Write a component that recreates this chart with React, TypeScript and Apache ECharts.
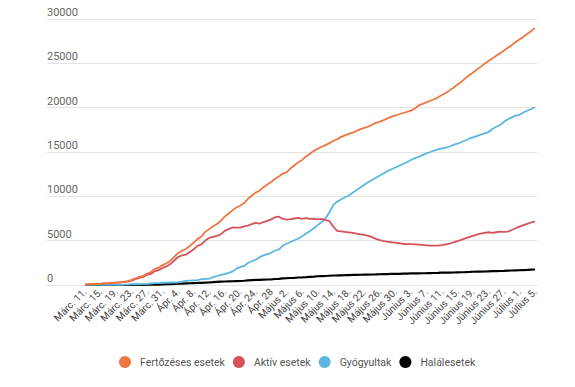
import React, { useEffect, useRef } from "react";
import * as echarts from "echarts";

// Tick labels (every 4th day, Márc. 11 – Július 5)
const tickLabels = [
  "Márc. 11.", "Márc. 15.", "Márc. 19.", "Márc. 23.", "Márc. 27.", "Márc. 31.",
  "Ápr. 4.", "Ápr. 8.", "Ápr. 12.", "Ápr. 16.", "Ápr. 20.", "Ápr. 24.", "Ápr. 28",
  "Május 2.", "Május 6.", "Május 10.", "Május 14.", "Május 18.", "Május 22.", "Május 26.", "Május 30.",
  "Június 3.", "Június 7.", "Június 11.", "Június 15.", "Június 19.", "Június 23.", "Június 27.",
  "Július 1.", "Július 5.",
];

// Month spans used for day categories
const months: [string, number, number][] = [
  ["Márc.", 11, 31],
  ["Ápr.", 1, 30],
  ["Május", 1, 31],
  ["Június", 1, 30],
  ["Július", 1, 5],
];
const days: string[] = [];
months.forEach(([m, a, b]) => {
  for (let d = a; d <= b; d++) days.push(`${m} ${d}.`);
});

const yTicks = [0, 5000, 10000, 15000, 20000, 25000, 30000];

const seriesNames = ["Fertőzéses esetek", "Aktív esetek", "Gyógyultak", "Halálesetek"];
const seriesColors = ["#ee7642", "#d4525a", "#5cb6e2", "#000000"];

const infected = [
  49, 89, 123, 131, 139, 184, 217, 260, 277, 308, 367, 433, 576, 762, 906, 1029, 1292, 1452, 1815, 1952, 2245,
  2460, 2738, 3183, 3613, 3864, 4057, 4417, 4761, 5202, 5467, 5990, 6300, 6633, 6879, 7216, 7707, 8067, 8418, 8746, 8936,
  9242, 9710, 10096, 10417, 10635, 11036, 11339, 11616, 11978, 12240,
  12567, 12732, 13163, 13512, 13837, 14107, 14499, 14811, 15131, 15362, 15588, 15778, 16002, 16247, 16437, 16704,
  16871, 17036, 17191, 17387, 17585, 17712, 17857, 18070, 18283, 18429, 18594, 18791, 18982, 19133, 19257,
  19398, 19517, 19669, 19907, 20250, 20420, 20600, 20780, 20950, 21180, 21420, 21650, 21950, 22250, 22600,
  22900, 23300, 23650, 23950, 24300, 24600, 24950, 25250, 25550, 25850, 26150, 26450, 26750, 27050, 27400,
  27700, 28000, 28300, 28650, 28970,
];

const active = [
  43, 83, 114, 122, 130, 168, 198, 241, 258, 283, 336, 379, 496, 672, 803, 912, 1148, 1246, 1566, 1680, 1924,
  2098, 2361, 2767, 3157, 3338, 3421, 3722, 4013, 4423, 4569, 5018, 5307, 5428, 5528, 5708, 6098, 6299, 6489, 6460, 6468,
  6611, 6708, 6874, 7004, 6919, 7102, 7228, 7400, 7650, 7700,
  7450, 7380, 7420, 7500, 7560, 7448, 7555, 7461, 7473, 7400, 7451, 7311, 7200, 6600, 6100, 6050,
  5980, 5940, 5880, 5800, 5720, 5650, 5550, 5400, 5200, 5050, 4950, 4880, 4820, 4780, 4720,
  4650, 4620, 4600, 4580, 4560, 4520, 4480, 4440, 4430, 4450, 4500, 4580, 4680, 4800, 4950,
  5100, 5250, 5400, 5550, 5680, 5800, 5880, 5950, 5880, 5950, 6010, 6000, 6020, 6200, 6400,
  6580, 6750, 6900, 7050, 7140,
];

const recovered = [
  6, 6, 9, 9, 9, 16, 19, 19, 19, 25, 31, 52, 73, 79, 86, 94, 115, 169, 206, 220, 252,
  277, 283, 283, 310, 375, 460, 498, 528, 550, 650, 702, 702, 888, 1000, 1136, 1217, 1357, 1508, 1846, 2017,
  2153, 2478, 2677, 2846, 3141, 3333, 3492, 3630, 3891, 4017,
  4450, 4650, 4850, 5050, 5250, 5500, 5800, 6100, 6400, 6750, 7100, 7500, 8200, 9000, 9400, 9650,
  9900, 10100, 10400, 10700, 11000, 11300, 11600, 11850, 12100, 12350, 12600, 12850, 13050, 13250, 13450,
  13650, 13850, 14100, 14300, 14450, 14650, 14850, 15000, 15150, 15300, 15400, 15500, 15620, 15800, 15950,
  16100, 16300, 16500, 16650, 16800, 16950, 17100, 17250, 17600, 17850, 18050, 18400, 18700, 18900, 19100,
  19200, 19450, 19650, 19850, 20050,
];

const deaths = [
  0, 0, 0, 0, 0, 0, 0, 0, 0, 0, 0, 2, 7, 11, 17, 23, 29, 37, 43, 52, 69,
  85, 94, 133, 146, 151, 176, 197, 220, 229, 248, 270, 291, 317, 351, 372, 392, 411, 421, 440, 451,
  478, 524, 545, 567, 575, 601, 619, 641, 675, 693,
  744, 766, 790, 812, 846, 864, 888, 927, 952, 985, 1002, 1016, 1046, 1070, 1081, 1094,
  1107, 1121, 1137, 1146, 1156, 1164, 1169, 1184, 1194, 1210, 1223, 1236, 1247, 1252, 1259,
  1274, 1288, 1305, 1316, 1322, 1326, 1333, 1345, 1355, 1366, 1385, 1396, 1406, 1410, 1427,
  1437, 1451, 1473, 1497, 1505, 1512, 1523, 1540, 1556, 1565, 1579, 1591, 1616, 1634, 1651,
  1667, 1687, 1708, 1731, 1750,
];

const seriesData = [infected, active, recovered, deaths];

export default function App() {
  const ref = useRef<HTMLDivElement>(null);
  useEffect(() => {
    if (!ref.current) return;
    document.body.style.margin = "0";
    const chart = echarts.init(ref.current, undefined, { renderer: "svg" });
    const font = "Roboto, 'Noto Sans', sans-serif";
    chart.setOption({
      animation: false,
      backgroundColor: "#ffffff",
      textStyle: { fontFamily: font },
      grid: [
        { left: 85, right: 40, top: 19, bottom: 102 },
        { left: 47, right: 38, top: 19, bottom: 102 },
      ],
      legend: {
        data: seriesNames.map((n) => ({ name: n })),
        icon: "circle",
        itemWidth: 12,
        itemHeight: 12,
        itemGap: 8,
        top: 351,
        left: 114,
        textStyle: { fontSize: 10.5, color: "#555", fontFamily: font, padding: [0, 0, 0, 4] },
      },
      xAxis: [
        {
          type: "category",
          gridIndex: 0,
          data: days,
          boundaryGap: false,
          axisLine: { show: false },
          axisTick: { show: false },
          splitLine: { show: false },
          axisLabel: {
            interval: 3,
            rotate: 45,
            margin: 5,
            fontSize: 10,
            color: "#444",
            fontFamily: font,
            formatter: (_v: string, idx: number) => tickLabels[Math.round(idx / 4)] ?? "",
          },
        },
        {
          type: "value",
          gridIndex: 1,
          show: false,
          min: 0,
          max: 1,
        },
      ],
      yAxis: [
        {
          type: "value",
          gridIndex: 0,
          min: 0,
          max: 30000,
          interval: 5000,
          show: false,
          splitLine: { show: false },
        },
        {
          type: "value",
          gridIndex: 1,
          min: yTicks[0],
          max: yTicks[yTicks.length - 1],
          interval: 5000,
          axisLine: { show: false },
          axisTick: { show: false },
          splitLine: { show: true, lineStyle: { color: "#e4e4e4", width: 1 } },
          axisLabel: {
            inside: true,
            align: "left",
            verticalAlign: "bottom",
            margin: 0,
            padding: [0, 0, 1, 0],
            fontSize: 11,
            color: "#666",
            fontFamily: font,
            formatter: (v: number) => String(v),
          },
        },
      ],
      series: seriesNames.map((name, k) => ({
        name,
        type: "line",
        xAxisIndex: 0,
        yAxisIndex: 0,
        data: seriesData[k],
        showSymbol: false,
        symbol: "none",
        color: seriesColors[k],
        lineStyle: { width: k === 3 ? 2.2 : 1.8, color: seriesColors[k] },
        z: 4 - k,
      })),
    });
    return () => chart.dispose();
  }, []);
  return <div ref={ref} style={{ width: 575, height: 387 }} />;
}
